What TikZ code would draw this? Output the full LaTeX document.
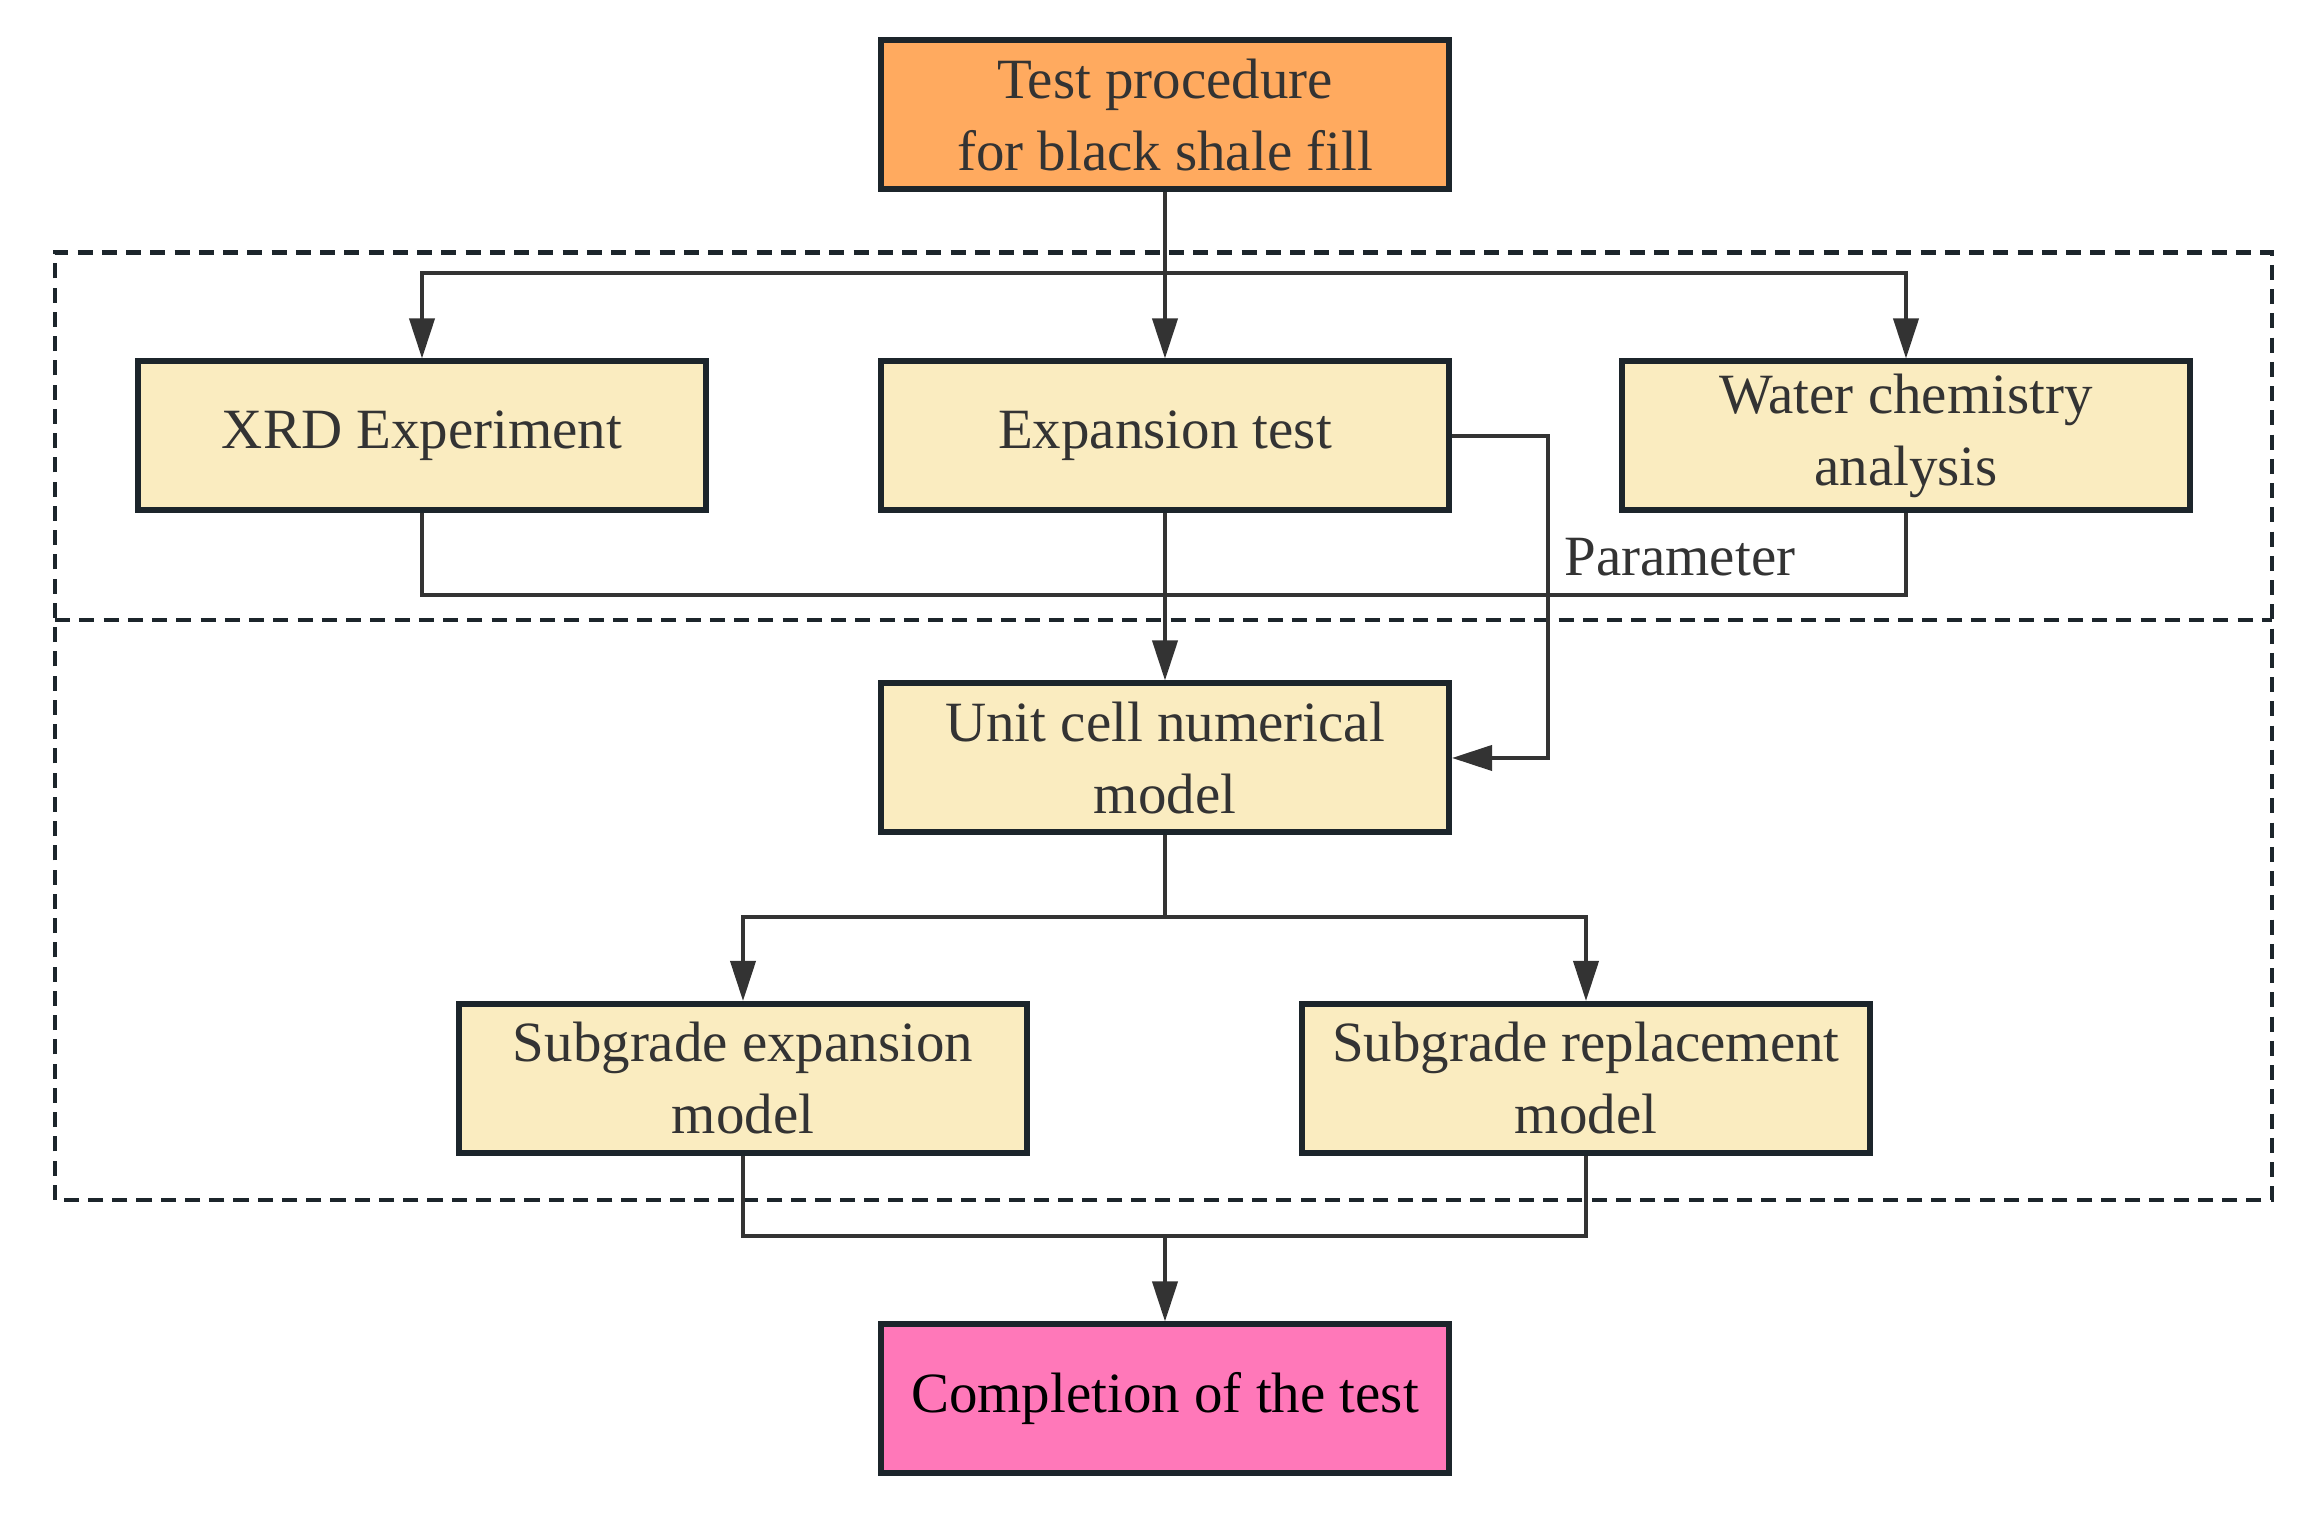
\documentclass[tikz,border=0pt]{standalone}
\usepackage{fontspec}
\setmainfont{Liberation Serif}
\usetikzlibrary{arrows.meta,positioning}
\definecolor{boxline}{HTML}{1C252B}
\definecolor{wireline}{HTML}{333333}
\definecolor{startfill}{HTML}{FFAA5F}
\definecolor{stepfill}{HTML}{FAECC0}
\definecolor{endfill}{HTML}{FF78B9}
\begin{document}
\begin{tikzpicture}[
  box/.style={draw=boxline, line width=1.7pt, fill=stepfill, text=wireline,
    minimum width=5.68cm, minimum height=1.49cm, align=center, inner sep=2pt,
    font=\fontsize{16.2}{20.5}\selectfont},
  startbox/.style={box, fill=startfill},
  endbox/.style={box, fill=endfill, text=black},
  line/.style={draw=wireline, line width=1.1pt},
  arr/.style={line, -{Triangle[length=0.4cm, width=0.25cm]}},
  frame/.style={draw=boxline, line width=1.2pt, dash pattern=on 4.3pt off 2.6pt}
] %% flow of the black shale tests

\useasboundingbox (0,0) rectangle (23.15,15.31);

% dashed frames
\draw[frame] (0.55,3.31) rectangle (22.72,12.785);
\draw[frame] (0.55,9.11) -- (22.72,9.11);

% boxes
\node[startbox] (proc) at (11.65,14.16) {Test procedure\\for black shale fill};
\node[box] (expt) at (11.65,10.95) {Expansion test};
\node[box] (xrd) at (4.22,10.95) {XRD Experiment};
\node[box] (wca) at (19.06,10.95) {Water chemistry\\analysis};
\node[box] (unit) at (11.65,7.73) {Unit cell numerical\\model};
\node[box] (sem) at (7.43,4.525) {Subgrade expansion\\model};
\node[box] (srm) at (15.86,4.525) {Subgrade replacement\\model};
\node[endbox] (done) at (11.65,1.32) {Completion of the test};

% junctions
\coordinate (fork) at (11.65,12.58);
\coordinate (collect) at (11.65,9.36);
\coordinate (branch) at (11.65,6.14);
\coordinate (merge) at (11.65,2.95);

% connectors
\draw[arr] (proc.south) -- (expt.north);
\draw[arr] (fork) -| (xrd.north);
\draw[arr] (fork) -| (wca.north);
\draw[line] (xrd.south) |- (collect) -| (wca.south);
\draw[arr] (expt.south) -- (unit.north);
\draw[arr] (expt.east) -- ++(0.96,0) |- (unit.east);
\node[text=wireline, font=\fontsize{16.2}{20.5}\selectfont, anchor=west] (param) at (15.52,9.74) {Parameter};
\draw[line] (unit.south) -- (branch);
\draw[arr] (branch) -| (sem.north);
\draw[arr] (branch) -| (srm.north);
\draw[line] (sem.south) |- (merge) -| (srm.south);
\draw[arr] (merge) -- (done.north);

\end{tikzpicture}
\end{document}
